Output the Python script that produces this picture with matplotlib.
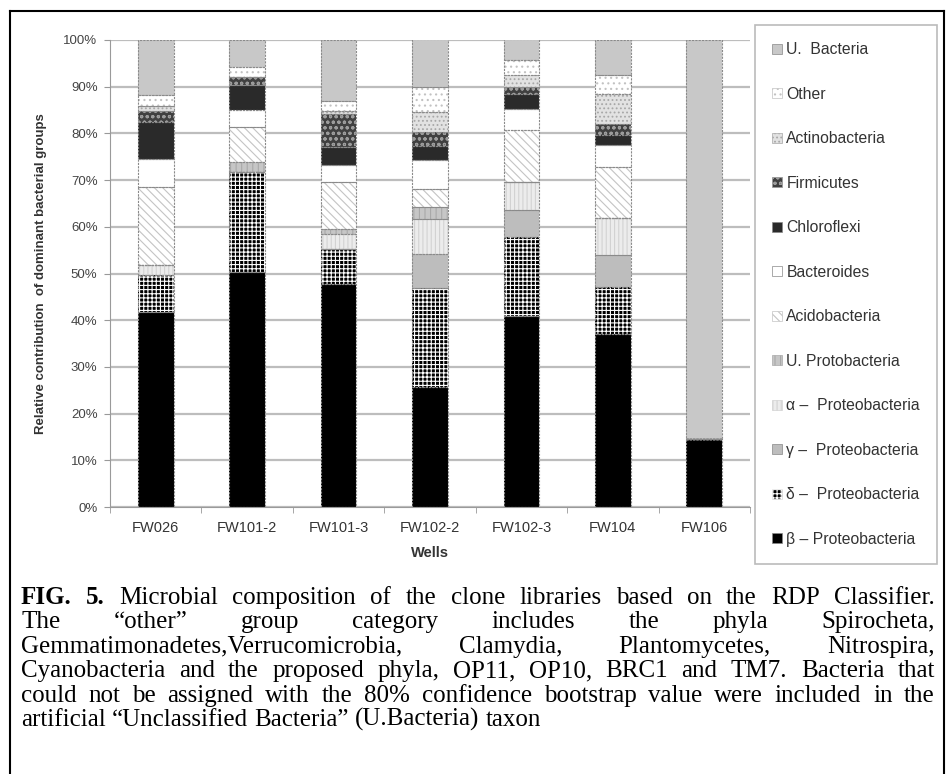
import numpy as np
import matplotlib.pyplot as plt
from matplotlib.patches import Patch
from matplotlib.lines import Line2D

plt.rcParams['font.family'] = ['Liberation Sans', 'DejaVu Sans']
plt.rcParams['hatch.linewidth'] = 0.8

wells = ['FW026', 'FW101-2', 'FW101-3', 'FW102-2', 'FW102-3', 'FW104', 'FW106']

# percent of clones per group, bottom of the stack first
beta_proteo = [41.8, 50.3, 47.8, 25.8, 41.0, 37.1, 14.6]
delta_proteo = [7.8, 21.4, 7.5, 21.2, 16.8, 10.0, 0.0]
gamma_proteo = [0.0, 0.0, 0.0, 7.1, 5.9, 6.8, 0.0]
alpha_proteo = [2.2, 0.0, 3.2, 7.5, 5.9, 7.9, 0.0]
u_proteo = [0.0, 2.2, 1.1, 2.7, 0.0, 0.0, 0.0]
acidobacteria = [16.7, 7.4, 10.1, 3.9, 11.1, 11.0, 0.0]
bacteroides = [6.1, 3.8, 3.6, 6.0, 4.6, 4.7, 0.0]
chloroflexi = [7.8, 5.2, 3.8, 3.0, 3.1, 2.1, 0.0]
firmicutes = [2.5, 1.8, 7.1, 3.1, 1.6, 2.5, 0.0]
actinobacteria = [0.9, 0.0, 0.7, 4.2, 2.6, 6.4, 0.0]
other = [2.5, 2.1, 2.1, 5.4, 3.2, 3.9, 0.0]
u_bacteria = [11.7, 5.8, 13.0, 10.4, 4.4, 7.6, 85.4]

groups = [beta_proteo, delta_proteo, gamma_proteo, alpha_proteo, u_proteo,
          acidobacteria, bacteroides, chloroflexi, firmicutes,
          actinobacteria, other, u_bacteria]
labels = ['β – Proteobacteria', 'δ –  Proteobacteria', 'γ –  Proteobacteria',
          'α –  Proteobacteria', 'U. Protobacteria', 'Acidobacteria',
          'Bacteroides', 'Chloroflexi', 'Firmicutes', 'Actinobacteria',
          'Other', 'U.  Bacteria']

# (face, hatch, hatch colour) for each group, same order
styles = [
    ('#000000', None, None),
    ('#000000', '++++', '#ffffff'),
    ('#bdbdbd', None, None),
    ('#ececec', '||||', '#d2d2d2'),
    ('#c6c6c6', '|||', '#a9a9a9'),
    ('#ffffff', '\\\\\\\\', '#c4c4c4'),
    ('#ffffff', None, None),
    ('#2a2a2a', None, None),
    ('#404040', 'ooo', '#9c9c9c'),
    ('#e2e2e2', '....', '#a8a8a8'),
    ('#ffffff', '...', '#c2c2c2'),
    ('#c8c8c8', None, None),
]

W, H = 951, 774
fig = plt.figure(figsize=(W / 100, H / 100), dpi=100)
ax = fig.add_axes([110 / W, 1 - 507 / H, 640 / W, 467 / H])

x = np.arange(len(wells))
width = 0.39
bottom = np.zeros(len(wells))
for vals, (face, hatch, hcol) in zip(groups, styles):
    v = np.array(vals) / 100
    ax.bar(x, v, width, bottom=bottom, color=face, edgecolor='none', zorder=2)
    if hatch:
        ax.bar(x, v, width, bottom=bottom, facecolor='none', edgecolor=hcol,
               hatch=hatch, linewidth=0, zorder=3)
    ax.bar(x, v, width, bottom=bottom, facecolor='none', edgecolor='#8a8a8a',
           linewidth=0.8, linestyle=(0, (2, 1)), zorder=4)
    bottom += v

ax.set_xlim(-0.5, len(wells) - 0.5)
ax.set_ylim(0, 1)
ax.set_yticks(np.arange(0, 1.01, 0.1))
ax.set_yticklabels([f'{int(round(t * 100))}%' for t in np.arange(0, 1.01, 0.1)])
ax.yaxis.grid(True, color='#bdbdbd', linewidth=1.6, zorder=0)
ax.set_axisbelow(True)
ax.set_xticks(x)
ax.set_xticklabels(wells)
ax.set_xticks(np.arange(-0.5, len(wells)), minor=True)
ax.tick_params(axis='x', which='major', length=0, pad=10, labelsize=10.5,
               labelcolor='#333333')
ax.tick_params(axis='x', which='minor', length=4, color='#999999')
ax.tick_params(axis='y', length=4, color='#999999', labelsize=9.5,
               labelcolor='#444444', pad=5)
for s in ['top', 'right']:
    ax.spines[s].set_visible(False)
for s in ['left', 'bottom']:
    ax.spines[s].set_color('#9a9a9a')
ax.set_xlabel('Wells', fontsize=10.5, fontweight='bold', color='#333333',
              labelpad=8)
ax.set_ylabel('Relative contribution  of dominant bacterial groups',
              fontsize=9.5, fontweight='bold', color='#333333', labelpad=12)

# legend, top entry first
handles = []
for face, hatch, hcol in styles:
    handles.append(Patch(facecolor=face, edgecolor=hcol if hcol else '#888888',
                         hatch=hatch, linewidth=0.5))
leg = fig.legend(handles[::-1], labels[::-1], loc='upper left',
                 bbox_to_anchor=(755 / W, 1 - 25 / H), frameon=True,
                 fontsize=11.3, labelspacing=1.88, handlelength=0.6,
                 handleheight=0.6, handletextpad=0.3, borderpad=1.1,
                 borderaxespad=0, fancybox=False, edgecolor='#aaaaaa')
leg.get_frame().set_linewidth(1.2)
for t in leg.get_texts():
    t.set_color('#333333')

# frame round the figure and caption
for xs, ys in [([10, 944], [11, 11]), ([10, 10], [11, 774]),
               ([944, 944], [11, 774])]:
    fig.add_artist(Line2D([v / W for v in xs], [1 - v / H for v in ys],
                          color='black', linewidth=1.5))

caption = [
    [('FIG.', 'bold'), ('5.', 'bold'), 'Microbial', 'composition', 'of', 'the',
     'clone', 'libraries', 'based', 'on', 'the', 'RDP', 'Classifier.'],
    'The “other” group category includes the phyla Spirocheta,'.split(),
    'Gemmatimonadetes,Verrucomicrobia, Clamydia, Plantomycetes, Nitrospira,'.split(),
    'Cyanobacteria and the proposed phyla, OP11, OP10, BRC1 and TM7. Bacteria that'.split(),
    'could not be assigned with the 80% confidence bootstrap value were included in the'.split(),
    'artificial “Unclassified Bacteria” (U.Bacteria) taxon'.split(),
]
left, right = 21, 935
cap_size = 18
renderer = fig.canvas.get_renderer()
probe = [fig.text(0, 0, s, family='Liberation Serif', fontsize=cap_size)
         for s in ('a a', 'aa')]
space_w = (probe[0].get_window_extent(renderer).width
           - probe[1].get_window_extent(renderer).width)
for p in probe:
    p.remove()
for i, words in enumerate(caption):
    base = 604 + 24.4 * i
    texts = []
    for w in words:
        word, weight = (w if isinstance(w, tuple) else (w, 'normal'))
        t = fig.text(0, 1 - base / H, word, family='Liberation Serif',
                     fontsize=cap_size, fontweight=weight, va='baseline',
                     color='black')
        texts.append(t)
    widths = [t.get_window_extent(renderer).width for t in texts]
    if i < len(caption) - 1:
        gap = (right - left - sum(widths)) / (len(texts) - 1)
    else:
        gap = space_w
    pos = left
    for t, w in zip(texts, widths):
        t.set_x(pos / W)
        pos += w + gap

fig.savefig('out.png', dpi=100)
